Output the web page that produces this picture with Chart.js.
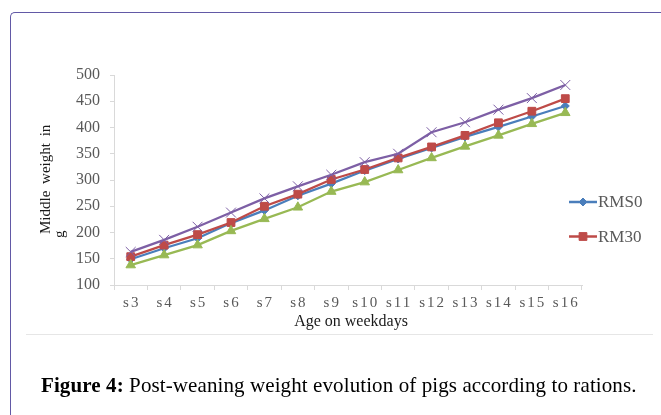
<!DOCTYPE html>
<html>
<head>
<meta charset="utf-8">
<script src="https://cdn.jsdelivr.net/npm/chart.js@4/dist/chart.umd.min.js"></script>
<style>
  html, body { margin: 0; padding: 0; background: #ffffff; }
  body { width: 661px; height: 415px; position: relative; overflow: hidden; }
  #frame { position: absolute; left: 10px; top: 12px; width: 700px; height: 450px;
           border-left: 1.5px solid #6259a6; border-top: 1.5px solid #6259a6; border-top-left-radius: 5px; }
  #rule { position: absolute; left: 26px; top: 334px; width: 627px; height: 1px; background: #e6e6e6; }
  #caption { position: absolute; left: 41px; top: 375px; font-family: 'Liberation Serif', serif;
             font-size: 21px; line-height: 21px; letter-spacing: 0.1px; color: #000; white-space: nowrap; }
  #c { position: absolute; left: 0; top: 0; }
</style>
</head>
<body>
<div id="frame"></div>
<div id="rule"></div>
<canvas id="c" width="661" height="415"></canvas>
<div id="caption"><b>Figure 4:</b> Post-weaning weight evolution of pigs according to rations.</div>
<script>
const categories = ['s3','s4','s5','s6','s7','s8','s9','s10','s11','s12','s13','s14','s15','s16'];
const rms0  = [149,170,189,218,242,270,293,318,340,361,382,401,421,441];
const rm30  = [154,176,196,219,250,273,301,320,342,363,385,409,431,455];
const rm60  = [138,157,176,203,226,248,278,296,319,342,364,385,407,428];
const rm100 = [163,186,211,238,265,288,310,334,350,391,410,434,456,481];
const yTicks = [100,150,200,250,300,350,400,450,500];
const xTitle = 'Age on weekdays';
const yTitle = ['Middle weight in', 'g'];
const legendNames = ['RMS0', 'RM30'];

const BLUE = '#4a7ebb', RED = '#be4b48', GREEN = '#98b954', PURPLE = '#7d5fa5';
const AXIS = '#d9d9d9';
const SERIF = "'Liberation Serif', 'Times New Roman', serif";

Chart.defaults.font.family = SERIF;

function marker(ctx, style, x, y, r, color) {
  ctx.save();
  ctx.fillStyle = color; ctx.strokeStyle = color; ctx.lineWidth = 1;
  ctx.beginPath();
  if (style === 'rectRot') {
    ctx.moveTo(x, y - r); ctx.lineTo(x + r, y); ctx.lineTo(x, y + r); ctx.lineTo(x - r, y); ctx.closePath();
    ctx.fill(); ctx.stroke();
  } else if (style === 'rect') {
    const s = r * Math.SQRT1_2;
    ctx.rect(x - s, y - s, 2 * s, 2 * s); ctx.fill(); ctx.stroke();
  }
  ctx.restore();
}

const decor = {
  id: 'decor',
  afterDraw(chart) {
    const ctx = chart.ctx;
    const ca = chart.chartArea;
    ctx.save();
    // x axis title
    ctx.fillStyle = '#1a1a1a';
    ctx.font = '16px ' + SERIF;
    ctx.textAlign = 'center';
    ctx.textBaseline = 'middle';
    ctx.fillText(xTitle, (ca.left + ca.right) / 2 + 3, 322);
    // y axis title (rotated, two lines)
    ctx.font = '15px ' + SERIF;
    ctx.textAlign = 'left';
    ctx.textBaseline = 'alphabetic';
    if ('wordSpacing' in ctx) ctx.wordSpacing = '3px';
    const lx = [50, 64];
    const ly = [234, 238];
    yTitle.forEach((t, i) => {
      ctx.save();
      ctx.translate(lx[i], ly[i]);
      ctx.rotate(-Math.PI / 2);
      ctx.fillText(t, 0, 0);
      ctx.restore();
    });
    if ('wordSpacing' in ctx) ctx.wordSpacing = '0px';
    // legend (only first two series visible, as in the reference)
    const items = [
      { name: legendNames[0], color: BLUE, style: 'rectRot', r: 4, y: 202 },
      { name: legendNames[1], color: RED, style: 'rect', r: 5.5, y: 236.5 }
    ];
    ctx.font = '17px ' + SERIF;
    ctx.textBaseline = 'middle';
    items.forEach(it => {
      ctx.strokeStyle = it.color; ctx.lineWidth = 2.5;
      ctx.beginPath(); ctx.moveTo(569, it.y); ctx.lineTo(597, it.y); ctx.stroke();
      marker(ctx, it.style, 583, it.y, it.r, it.color);
      ctx.fillStyle = '#595959';
      ctx.textAlign = 'left';
      ctx.fillText(it.name, 598, it.y + 1);
    });
    ctx.restore();
  }
};

const chart = new Chart(document.getElementById('c'), {
  type: 'line',
  data: {
    labels: categories,
    datasets: [
      { label: 'RMS0', data: rms0, borderColor: BLUE, backgroundColor: BLUE, borderWidth: 2.3,
        pointStyle: 'rectRot', pointRadius: 4, pointBorderWidth: 1, order: 4 },
      { label: 'RM30', data: rm30, borderColor: RED, backgroundColor: RED, borderWidth: 2.3,
        pointStyle: 'rect', pointRadius: 5.5, pointBorderWidth: 1, order: 3 },
      { label: 'RM60', data: rm60, borderColor: GREEN, backgroundColor: GREEN, borderWidth: 2.3,
        pointStyle: 'triangle', pointRadius: 5.5, pointBorderWidth: 1, order: 2 },
      { label: 'RM100', data: rm100, borderColor: PURPLE, backgroundColor: PURPLE, borderWidth: 2.3,
        pointStyle: 'crossRot', pointRadius: 7, pointBorderWidth: 1, order: 1 }
    ]
  },
  options: {
    responsive: false,
    animation: false,
    devicePixelRatio: 1,
    layout: { padding: { left: 0, top: 75, right: 79, bottom: 90 } },
    plugins: { legend: { display: false }, tooltip: { enabled: false }, title: { display: false } },
    elements: { line: { tension: 0 } },
    scales: {
      x: {
        offset: true,
        grid: { display: true, offset: true, drawOnChartArea: false, drawTicks: true, tickLength: 5, color: AXIS, lineWidth: 1 },
        border: { display: true, color: AXIS, width: 1 },
        ticks: { color: '#595959', font: { size: 15, family: SERIF }, padding: 4, maxRotation: 0, autoSkip: false },
        afterFit(s) { s.height = 40; }
      },
      y: {
        min: 100, max: 500,
        afterBuildTicks(s) { s.ticks = yTicks.map(v => ({ value: v })); },
        grid: { display: true, drawOnChartArea: false, drawTicks: true, tickLength: 4, color: AXIS, lineWidth: 1 },
        border: { display: true, color: AXIS, width: 1 },
        ticks: { color: '#595959', font: { size: 16, family: SERIF }, padding: 10 },
        afterFit(s) { s.width = 114; }
      }
    }
  },
  plugins: [decor]
});

// Excel-style spaced category labels on the x axis
const sx = chart.scales.x;
const origDrawLabels = sx.drawLabels.bind(sx);
sx.drawLabels = function (area) {
  const c = this.ctx;
  const has = 'letterSpacing' in c;
  if (has) { c.save(); c.letterSpacing = '2px'; c.translate(1, 0); }
  origDrawLabels(area);
  if (has) { c.restore(); }
};
chart.draw();
</script>
</body>
</html>
